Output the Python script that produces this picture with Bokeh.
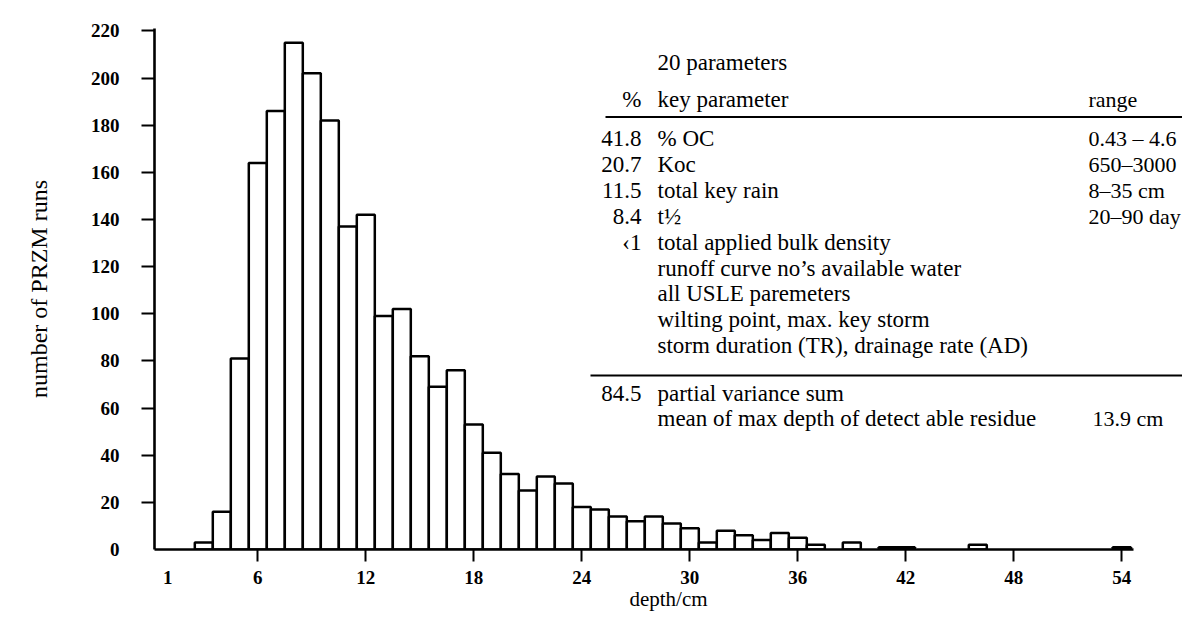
from bokeh.plotting import figure
from bokeh.models import Range1d, FixedTicker
from bokeh.embed import file_html
from bokeh.resources import INLINE
from bokeh.core.properties import value

# ---- data ----
depth = [3, 4, 5, 6, 7, 8, 9, 10, 11, 12, 13, 14, 15, 16, 17, 18, 19, 20, 21, 22,
         23, 24, 25, 26, 27, 28, 29, 30, 31, 32, 33, 34, 35, 36, 37, 39, 41, 42, 46, 54]
runs = [3, 16, 81, 164, 186, 215, 202, 182, 137, 142, 99, 102, 82, 69, 76, 53, 41, 32, 25, 31,
        28, 18, 17, 14, 12, 14, 11, 9, 3, 8, 6, 4, 7, 5, 2, 3, 1, 1, 2, 1]

x_labels = [1, 6, 12, 18, 24, 30, 36, 42, 48, 54]
x_tick_marks = [6, 12, 18, 24, 30, 36, 42, 48, 54]
y_labels = [0, 20, 40, 60, 80, 100, 120, 140, 160, 180, 200, 220]
y_tick_marks = [20, 40, 60, 80, 100, 120, 140, 160, 180, 200, 220]

# ---- table text ----
table_title = "20 parameters"
head_pct, head_param, head_range = "%", "key parameter", "range"
pct = ["41.8", "20.7", "11.5", "8.4", "\u20391", "", "", "", ""]
param = ["% OC", "Koc", "total key rain", "t\u00bd", "total applied bulk density",
         "runoff curve no\u2019s available water", "all USLE paremeters",
         "wilting point, max. key storm", "storm duration (TR), drainage rate (AD)"]
rng = ["0.43 \u2013 4.6", "650\u20133000", "8\u201335 cm", "20\u201390 day", "", "", "", "", ""]
sum_pct = "84.5"
sum_rows = ["partial variance sum", "mean of max depth of detect able residue"]
sum_range = "13.9 cm"

SERIF = "Liberation Serif"

W, H = 1182, 613
LEFT, TOP = 154, 28
BASE = 552
BOTTOM = H - BASE
X0 = 0.261
PX_X = 18.0
PX_Y = 2.371
frame_w = W - LEFT
frame_h = H - TOP - BOTTOM
x_end = X0 + frame_w / PX_X
y_end = frame_h / PX_Y

p = figure(width=W, height=H, output_backend="svg", toolbar_location=None,
           x_range=Range1d(X0, x_end), y_range=Range1d(0, y_end),
           min_border_left=LEFT, min_border_right=0, min_border_top=TOP,
           min_border_bottom=BOTTOM)
p.outline_line_color = None
p.grid.visible = False
p.background_fill_color = "white"

# histogram bars
left = [d - 0.5 for d in depth]
right = [d + 0.5 for d in depth]
p.quad(left=left, right=right, bottom=0, top=runs, fill_color="white",
       line_color="black", line_width=2.5)

def xd(px):
    return X0 + (px - LEFT) / PX_X

def yd(py):
    return (BASE - py) / PX_Y

# axes
xa = p.xaxis[0]
xa.ticker = FixedTicker(ticks=x_labels, minor_ticks=x_tick_marks)
xa.bounds = (X0, xd(1133))
xa.axis_line_width = 2.6
xa.major_tick_out = 0
xa.major_tick_in = 0
xa.minor_tick_out = 12
xa.minor_tick_in = 0
xa.minor_tick_line_width = 2
xa.major_label_standoff = 9
xa.major_label_text_font = SERIF
xa.major_label_text_font_style = "bold"
xa.major_label_text_font_size = "19px"
xa.major_label_text_color = "black"
xa.axis_label = "depth/cm"
xa.axis_label_text_font = SERIF
xa.axis_label_text_font_style = "normal"
xa.axis_label_text_font_size = "21px"
xa.axis_label_text_color = "black"
xa.axis_label_standoff = 0

ya = p.yaxis[0]
ya.ticker = FixedTicker(ticks=y_labels, minor_ticks=y_tick_marks)
ya.axis_line_width = 2.6
ya.major_tick_out = 0
ya.major_tick_in = 0
ya.minor_tick_out = 13
ya.minor_tick_in = 0
ya.minor_tick_line_width = 2
ya.major_label_standoff = 22
ya.major_label_text_font = SERIF
ya.major_label_text_font_style = "bold"
ya.major_label_text_font_size = "19px"
ya.major_label_text_color = "black"
ya.axis_label = "number of PRZM runs"
ya.axis_label_text_font = SERIF
ya.axis_label_text_font_style = "normal"
ya.axis_label_text_font_size = "24px"
ya.axis_label_text_color = "black"
ya.axis_label_standoff = 36

# ---- table ----
FS = "23px"
num_r = xd(641)
txt_l = xd(657)
rng_l = xd(1088)
row_y = [139 + 26 * i for i in range(len(param))]

def txt(xs, ys, ts, align, size=FS):
    p.text(x=xs, y=ys, text=ts, text_font=value(SERIF), text_font_size=size,
           text_align=align, text_baseline="middle", text_color="black")

txt([txt_l], [yd(62)], [table_title], "left")
txt([num_r], [yd(99)], [head_pct], "right")
txt([txt_l], [yd(99)], [head_param], "left")
txt([rng_l], [yd(99)], [head_range], "left", "22px")
p.segment(x0=[xd(605)], x1=[xd(1198)], y0=[yd(117)], y1=[yd(117)], line_width=2.2, line_color="black")
txt([num_r] * len(pct), [yd(v) for v in row_y], pct, "right")
txt([txt_l] * len(param), [yd(v) for v in row_y], param, "left")
txt([rng_l] * len(rng), [yd(v) for v in row_y], rng, "left", "22px")
p.segment(x0=[xd(590)], x1=[xd(1198)], y0=[yd(377)], y1=[yd(377)], line_width=2.2, line_color="black")
txt([num_r], [yd(395)], [sum_pct], "right")
txt([txt_l, txt_l], [yd(395), yd(420)], sum_rows, "left")
txt([xd(1092)], [yd(420)], [sum_range], "left", "22px")

open("out.html", "w").write(file_html(p, INLINE))
